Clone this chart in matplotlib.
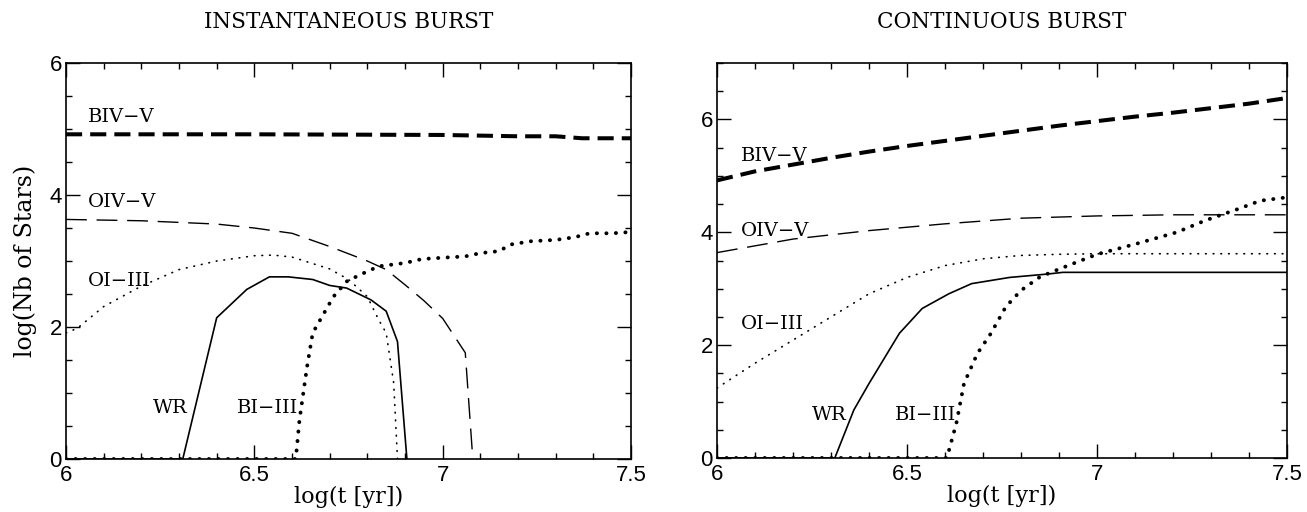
import matplotlib
matplotlib.use('Agg')
import matplotlib.pyplot as plt
from matplotlib.ticker import MultipleLocator, FixedLocator, FixedFormatter

# ---- instantaneous burst
inst_biv_t = [6.0, 6.5, 7.0, 7.1, 7.2, 7.3, 7.37, 7.5]
inst_biv = [4.92, 4.92, 4.91, 4.90, 4.89, 4.89, 4.86, 4.86]

inst_oiv_t = [6.0, 6.2, 6.4, 6.5, 6.6, 6.7, 6.8, 6.85, 6.9, 6.95, 7.0, 7.06, 7.08]
inst_oiv = [3.63, 3.61, 3.56, 3.50, 3.42, 3.22, 3.00, 2.87, 2.64, 2.40, 2.13, 1.61, 0.0]

inst_oi_t = [6.0, 6.03, 6.1, 6.2, 6.3, 6.4, 6.5, 6.55, 6.6, 6.7, 6.75, 6.8, 6.83, 6.85, 6.87, 6.88]
inst_oi = [1.91, 1.98, 2.31, 2.62, 2.87, 3.00, 3.08, 3.09, 3.06, 2.88, 2.72, 2.46, 2.11, 1.91, 1.15, 0.0]

inst_wr_t = [6.0, 6.31, 6.40, 6.48, 6.54, 6.59, 6.655, 6.70, 6.745, 6.81, 6.85, 6.88, 6.905]
inst_wr = [0, 0, 2.14, 2.57, 2.76, 2.76, 2.72, 2.63, 2.59, 2.41, 2.24, 1.78, 0]

inst_bi_t = [6.0, 6.61, 6.62, 6.64, 6.655, 6.68, 6.71, 6.745, 6.78, 6.83, 6.90, 6.945,
             7.0, 7.06, 7.10, 7.15, 7.18, 7.235, 7.30, 7.35, 7.39, 7.45, 7.5]
inst_bi = [0, 0, 0.6, 1.4, 1.91, 2.16, 2.46, 2.69, 2.79, 2.92, 2.97, 3.03,
           3.05, 3.07, 3.12, 3.15, 3.25, 3.30, 3.32, 3.36, 3.42, 3.42, 3.44]

# ---- continuous burst
cont_biv_t = [6.0, 6.1, 6.2, 6.3, 6.4, 6.5, 6.6, 6.7, 6.8, 6.9, 7.0, 7.1, 7.2, 7.3, 7.4, 7.5]
cont_biv = [4.92, 5.08, 5.20, 5.32, 5.43, 5.53, 5.62, 5.71, 5.80, 5.89, 5.97, 6.05, 6.12, 6.20, 6.28, 6.38]

cont_oiv_t = [6.0, 6.2, 6.4, 6.6, 6.8, 7.0, 7.2, 7.5]
cont_oiv = [3.64, 3.88, 4.03, 4.15, 4.25, 4.29, 4.31, 4.31]

cont_oi_t = [6.0, 6.1, 6.2, 6.3, 6.4, 6.5, 6.6, 6.7, 6.8, 6.9, 7.0, 7.5]
cont_oi = [1.24, 1.68, 2.09, 2.50, 2.91, 3.20, 3.41, 3.53, 3.59, 3.61, 3.62, 3.62]

cont_wr_t = [6.0, 6.31, 6.36, 6.40, 6.48, 6.54, 6.61, 6.67, 6.77, 6.87, 6.91, 7.5]
cont_wr = [0, 0, 0.85, 1.32, 2.21, 2.65, 2.91, 3.09, 3.20, 3.26, 3.29, 3.29]

cont_bi_t = [6.0, 6.605, 6.63, 6.65, 6.685, 6.72, 6.76, 6.80, 6.85, 6.89, 6.935,
             7.0, 7.10, 7.21, 7.285, 7.37, 7.43, 7.5]
cont_bi = [0, 0, 0.62, 1.32, 1.85, 2.20, 2.68, 2.97, 3.21, 3.32, 3.44,
           3.61, 3.79, 4.00, 4.21, 4.41, 4.56, 4.62]

xticks = [6, 6.5, 7, 7.5]
xticklabels = ['6', '6.5', '7', '7.5']

serif = ['DejaVu Serif']
sans = ['Liberation Sans', 'DejaVu Sans']

fig = plt.figure(figsize=(13.07, 5.12), dpi=100)
ax1 = fig.add_axes([0.0505, 0.1035, 0.4323, 0.7734])
ax2 = fig.add_axes([0.5486, 0.1055, 0.4361, 0.7714])


def draw(ax, biv, oiv, oi, wr, bi):
    ax.plot(*biv, color='black', lw=2.9, dashes=(4, 2))
    ax.plot(*oiv, color='black', lw=1.0, dashes=(15, 7))
    ax.plot(*oi, color='black', lw=1.2, dashes=(0.4, 4.2), dash_capstyle='round')
    ax.plot(*wr, color='black', lw=1.2)
    ax.plot(*bi, color='black', lw=2.8, dashes=(0.05, 2.4), dash_capstyle='round')


def style(ax, ymax):
    ax.set_xlim(6, 7.5)
    ax.set_ylim(0, ymax)
    ax.xaxis.set_major_locator(FixedLocator(xticks))
    ax.xaxis.set_major_formatter(FixedFormatter(xticklabels))
    ax.xaxis.set_minor_locator(MultipleLocator(0.1))
    ax.yaxis.set_major_locator(MultipleLocator(2))
    ax.yaxis.set_minor_locator(MultipleLocator(0.5))
    ax.tick_params(which='both', direction='in', top=True, right=True, width=1)
    ax.tick_params(which='major', length=10, labelsize=16, pad=3)
    ax.tick_params(axis='x', which='major', pad=4)
    ax.tick_params(which='minor', length=4.5)
    for lab in ax.get_xticklabels() + ax.get_yticklabels():
        lab.set_family(sans)
    for sp in ax.spines.values():
        sp.set_linewidth(1.2)
    ax.set_xlabel('log(t [yr])', family=serif, fontsize=16, labelpad=0)


draw(ax1, (inst_biv_t, inst_biv), (inst_oiv_t, inst_oiv), (inst_oi_t, inst_oi),
     (inst_wr_t, inst_wr), (inst_bi_t, inst_bi))
draw(ax2, (cont_biv_t, cont_biv), (cont_oiv_t, cont_oiv), (cont_oi_t, cont_oi),
     (cont_wr_t, cont_wr), (cont_bi_t, cont_bi))
style(ax1, 6)
style(ax2, 7)

ax1.set_ylabel('log(Nb of Stars)', family=serif, fontsize=17, labelpad=9)
ax1.set_title('INSTANTANEOUS BURST', family=serif, fontsize=15.5, pad=25)
ax2.set_title('CONTINUOUS BURST', family=serif, fontsize=15.5, pad=25)

lab = dict(family=serif, fontsize=14, va='center', fontweight='medium')
ax1.text(6.058, 5.18, 'BIV−V', ha='left', **lab)
ax1.text(6.058, 3.90, 'OIV−V', ha='left', **lab)
ax1.text(6.058, 2.70, 'OI−III', ha='left', **lab)
ax1.text(6.324, 0.77, 'WR', ha='right', **lab)
ax1.text(6.536, 0.77, 'BI−III', ha='center', **lab)

ax2.text(6.063, 5.35, 'BIV−V', ha='left', **lab)
ax2.text(6.063, 4.03, 'OIV−V', ha='left', **lab)
ax2.text(6.063, 2.38, 'OI−III', ha='left', **lab)
ax2.text(6.342, 0.76, 'WR', ha='right', **lab)
ax2.text(6.55, 0.76, 'BI−III', ha='center', **lab)

fig.savefig('out.png', dpi=100)
